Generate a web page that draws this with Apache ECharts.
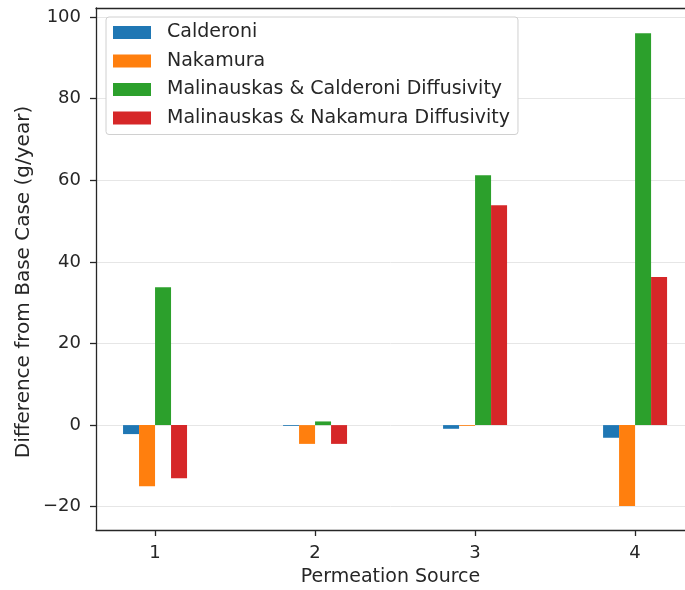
<!DOCTYPE html>
<html>
<head>
<meta charset="utf-8">
<script src="https://cdn.jsdelivr.net/npm/echarts@6/dist/echarts.min.js"></script>
<style>
  html, body { margin: 0; padding: 0; background: #fff; }
  #chart { width: 685px; height: 590px; }
</style>
</head>
<body>
<div id="chart"></div>
<script>
// Permeation sources along the x axis
const sources = [1, 2, 3, 4];
// Difference from base case (g/year) per model
const calderoni = [-2.2, -0.2, -0.9, -3.1];
const nakamura = [-15.0, -4.6, -0.2, -19.8];
const malCalderoni = [33.8, 0.9, 61.2, 96.0];
const malNakamura = [-13.0, -4.6, 53.9, 36.3];
// Tick labels
const yTicks = [-20, 0, 20, 40, 60, 80, 100];
const xTicks = [1, 2, 3, 4];

const seriesDefs = [
  { name: 'Calderoni', values: calderoni, color: '#1f77b4' },
  { name: 'Nakamura', values: nakamura, color: '#ff7f0e' },
  { name: 'Malinauskas & Calderoni Diffusivity', values: malCalderoni, color: '#2ca02c' },
  { name: 'Malinauskas & Nakamura Diffusivity', values: malNakamura, color: '#d62728' }
];

const font = 'DejaVu Sans';
const axisColor = '#262626';
const textColor = '#262626';
const fs = 19;
const tickFs = 18;

const chart = echarts.init(document.getElementById('chart'), null, { renderer: 'canvas' });

const xRange = { min: 0.631, max: 4.312 };

chart.setOption({
  animation: false,
  backgroundColor: '#ffffff',
  textStyle: { fontFamily: font },
  grid: { left: 96, right: 0, top: 8, bottom: 60, outerBoundsMode: 'none', containLabel: false },
  legend: {
    orient: 'vertical',
    left: 106, top: 17,
    padding: [6, 8, 7, 7],
    itemWidth: 38, itemHeight: 13, itemGap: 9.5,
    backgroundColor: '#ffffff',
    borderColor: '#d0d0d0', borderWidth: 1, borderRadius: 3,
    icon: 'rect',
    itemStyle: { borderWidth: 0 },
    textStyle: { fontFamily: font, fontSize: fs, lineHeight: 19, color: textColor, padding: [0, 0, 0, 11] },
    data: seriesDefs.map(s => s.name)
  },
  graphic: [
    {
      // y-axis title
      type: 'text',
      x: 24, y: 282,
      rotation: Math.PI / 2,
      style: {
        text: 'Difference from Base Case (g/year)',
        fontFamily: font, fontSize: 20, fill: textColor,
        align: 'center', verticalAlign: 'middle'
      }
    }
  ],
  xAxis: [
    {
      type: 'value',
      min: xRange.min, max: xRange.max,
      name: 'Permeation Source',
      nameLocation: 'middle',
      nameGap: 38,
      nameTextStyle: { fontFamily: font, fontSize: fs, color: textColor },
      axisLine: { show: true, onZero: false, lineStyle: { color: axisColor, width: 1.3 } },
      axisTick: { show: true, customValues: xTicks, length: 6, lineStyle: { color: axisColor, width: 1.3 } },
      axisLabel: { customValues: xTicks, fontFamily: font, fontSize: tickFs, color: textColor, margin: 14 },
      splitLine: { show: false }
    },
    {
      // top frame line
      type: 'value',
      position: 'top',
      min: xRange.min, max: xRange.max,
      axisLine: { show: true, onZero: false, lineStyle: { color: axisColor, width: 1.3 } },
      axisTick: { show: false },
      axisLabel: { show: false },
      splitLine: { show: false }
    }
  ],
  yAxis: {
    type: 'value',
    min: -25.7, max: 102.2,
    axisLine: { show: true, lineStyle: { color: axisColor, width: 1.3 } },
    axisTick: { show: true, customValues: yTicks, length: 6, lineStyle: { color: axisColor, width: 1.3 } },
    axisLabel: {
      customValues: yTicks, fontFamily: font, fontSize: tickFs, color: textColor, margin: 15,
      formatter: v => (v < 0 ? '\u2212' + Math.abs(v) : String(v))
    },
    splitLine: { show: true, lineStyle: { color: '#e6e6e6', width: 1 } }
  },
  series: seriesDefs.map(s => ({
    name: s.name,
    type: 'bar',
    xAxisIndex: 0,
    barWidth: 16,
    barGap: '0%',
    itemStyle: { color: s.color },
    data: sources.map((x, i) => [x, s.values[i]])
  }))
});
</script>
</body>
</html>
